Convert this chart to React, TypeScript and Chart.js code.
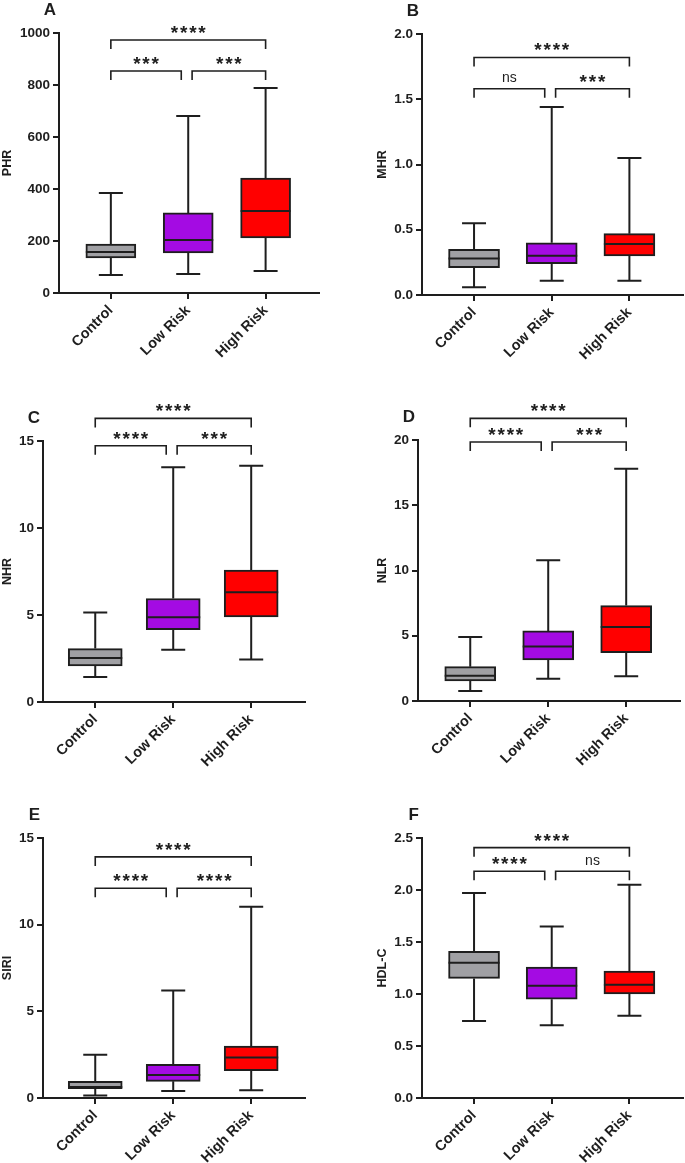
import React, { useEffect, useRef } from 'react';
import { Chart, registerables } from 'chart.js';

Chart.register(...registerables);

const FONT = "'Liberation Sans', Arial, Helvetica, sans-serif";
const INK = '#1e1e1e';

// ---------- data ----------
const groups = ['Control', 'Low Risk', 'High Risk'];
const groupColors = ['#a0a0a4', '#a40be3', '#ff0000'];

// each row: [min whisker, Q1, median, Q3, max whisker]
const phrBoxes = [[69, 135, 158, 188, 385], [73, 154, 204, 308, 681], [85, 212, 315, 442, 788]];
const mhrBoxes = [[0.06, 0.21, 0.28, 0.35, 0.55], [0.11, 0.24, 0.3, 0.4, 1.44], [0.11, 0.3, 0.39, 0.47, 1.05]];
const nhrBoxes = [[1.44, 2.07, 2.53, 3.07, 5.14], [3.01, 4.16, 4.87, 5.95, 13.49], [2.44, 4.89, 6.31, 7.58, 13.58]];
const nlrBoxes = [[0.77, 1.53, 1.94, 2.63, 4.91], [1.71, 3.15, 4.17, 5.37, 10.79], [1.89, 3.71, 5.68, 7.31, 17.8]];
const siriBoxes = [[0.15, 0.54, 0.63, 0.96, 2.49], [0.4, 0.96, 1.32, 1.94, 6.2], [0.44, 1.57, 2.34, 2.99, 11.03]];
const hdlBoxes = [[0.74, 1.15, 1.3, 1.41, 1.97], [0.7, 0.95, 1.08, 1.26, 1.65], [0.79, 1.0, 1.09, 1.22, 2.05]];

// y-axis tick labels
const phrTicks = ['0', '200', '400', '600', '800', '1000'];
const mhrTicks = ['0.0', '0.5', '1.0', '1.5', '2.0'];
const nhrTicks = ['0', '5', '10', '15'];
const nlrTicks = ['0', '5', '10', '15', '20'];
const siriTicks = ['0', '5', '10', '15'];
const hdlTicks = ['0.0', '0.5', '1.0', '1.5', '2.0', '2.5'];

// significance brackets, order: [Control vs High, Control vs Low, Low vs High]
const bracketPairs = [[0, 2], [0, 1], [1, 2]];
const phrSigLabels = ['****', '***', '***'];
const phrSigLevels = [973, 854, 854];
const mhrSigLabels = ['****', 'ns', '***'];
const mhrSigLevels = [1.82, 1.58, 1.58];
const nhrSigLabels = ['****', '****', '***'];
const nhrSigLevels = [16.3, 14.73, 14.73];
const nlrSigLabels = ['****', '****', '***'];
const nlrSigLevels = [21.66, 19.85, 19.85];
const siriSigLabels = ['****', '****', '****'];
const siriSigLevels = [13.91, 12.1, 12.1];
const hdlSigLabels = ['****', '****', 'ns'];
const hdlSigLevels = [2.407, 2.18, 2.18];

// ---------- layout ----------
type Rect = { left: number; top: number; width: number; height: number };
type Plot = { left: number; top: number; right: number; bottom: number };
type Panel = {
  letter: string;
  title: string;
  boxes: number[][];
  ticks: string[];
  sigLabels: string[];
  sigLevels: number[];
  canvas: Rect;
  plot: Plot;
  boxWidth: number;
};

const panels: Panel[] = [
  {
    letter: 'A', title: 'PHR', boxes: phrBoxes, ticks: phrTicks, sigLabels: phrSigLabels, sigLevels: phrSigLevels,
    canvas: { left: 0, top: 0, width: 340, height: 380 }, plot: { left: 59, top: 33, right: 319, bottom: 293 }, boxWidth: 50,
  },
  {
    letter: 'B', title: 'MHR', boxes: mhrBoxes, ticks: mhrTicks, sigLabels: mhrSigLabels, sigLevels: mhrSigLevels,
    canvas: { left: 375, top: 0, width: 310, height: 380 }, plot: { left: 422, top: 34, right: 683, bottom: 295 }, boxWidth: 51,
  },
  {
    letter: 'C', title: 'NHR', boxes: nhrBoxes, ticks: nhrTicks, sigLabels: nhrSigLabels, sigLevels: nhrSigLevels,
    canvas: { left: 0, top: 380, width: 340, height: 390 }, plot: { left: 43, top: 441, right: 305, bottom: 702 }, boxWidth: 54,
  },
  {
    letter: 'D', title: 'NLR', boxes: nlrBoxes, ticks: nlrTicks, sigLabels: nlrSigLabels, sigLevels: nlrSigLevels,
    canvas: { left: 375, top: 380, width: 310, height: 390 }, plot: { left: 418, top: 440, right: 680, bottom: 701 }, boxWidth: 51,
  },
  {
    letter: 'E', title: 'SIRI', boxes: siriBoxes, ticks: siriTicks, sigLabels: siriSigLabels, sigLevels: siriSigLevels,
    canvas: { left: 0, top: 770, width: 340, height: 393 }, plot: { left: 43, top: 838, right: 305, bottom: 1098 }, boxWidth: 54,
  },
  {
    letter: 'F', title: 'HDL-C', boxes: hdlBoxes, ticks: hdlTicks, sigLabels: hdlSigLabels, sigLevels: hdlSigLevels,
    canvas: { left: 375, top: 770, width: 310, height: 393 }, plot: { left: 422, top: 838, right: 683, bottom: 1098 }, boxWidth: 51,
  },
];

const X_MIN = -0.67;
const X_MAX = 2.69;

function drawSigLabel(ctx: CanvasRenderingContext2D, text: string, cx: number, cy: number) {
  ctx.fillStyle = INK;
  if (text.startsWith('*')) {
    ctx.font = `bold 19px ${FONT}`;
    ctx.textAlign = 'center';
    ctx.textBaseline = 'alphabetic';
    const m = ctx.measureText('*');
    const baseY = cy + (m.actualBoundingBoxAscent - m.actualBoundingBoxDescent) / 2;
    const pitch = 9.2;
    const n = text.length;
    for (let k = 0; k < n; k++) {
      ctx.fillText('*', cx + (k - (n - 1) / 2) * pitch, baseY);
    }
  } else {
    ctx.font = `14px ${FONT}`;
    ctx.textAlign = 'center';
    ctx.textBaseline = 'middle';
    ctx.fillText(text, cx, cy);
  }
}

function makePlugin(p: Panel) {
  return {
    id: 'panelExtras',
    afterDatasetsDraw(chart: any) {
      const { ctx } = chart;
      const xs = chart.scales.x;
      const ys = chart.scales.y;
      ctx.save();
      ctx.strokeStyle = INK;
      ctx.lineWidth = 2;
      const half = p.boxWidth / 2;
      const cap = 12;
      p.boxes.forEach((b, i) => {
        const cx = xs.getPixelForValue(i);
        const [lo, q1, med, q3, hi] = b.map((v) => ys.getPixelForValue(v));
        ctx.beginPath();
        ctx.moveTo(cx, q3);
        ctx.lineTo(cx, hi);
        ctx.moveTo(cx - cap, hi);
        ctx.lineTo(cx + cap, hi);
        ctx.moveTo(cx, q1);
        ctx.lineTo(cx, lo);
        ctx.moveTo(cx - cap, lo);
        ctx.lineTo(cx + cap, lo);
        ctx.moveTo(cx - half, med);
        ctx.lineTo(cx + half, med);
        ctx.stroke();
      });
      ctx.restore();
    },
    afterDraw(chart: any) {
      const { ctx, chartArea } = chart;
      const xs = chart.scales.x;
      const ys = chart.scales.y;
      ctx.save();
      ctx.strokeStyle = INK;
      ctx.lineWidth = 1.6;
      bracketPairs.forEach(([a, b], k) => {
        const from = k === 2 ? a + 0.05 : a;
        const to = k === 1 ? b - 0.09 : b;
        const x1 = xs.getPixelForValue(from);
        const x2 = xs.getPixelForValue(to);
        const yy = ys.getPixelForValue(p.sigLevels[k]);
        ctx.beginPath();
        ctx.moveTo(x1, yy + 9);
        ctx.lineTo(x1, yy);
        ctx.lineTo(x2, yy);
        ctx.lineTo(x2, yy + 9);
        ctx.stroke();
        drawSigLabel(ctx, p.sigLabels[k], (x1 + x2) / 2, yy - 10.5);
      });
      // panel letter
      ctx.fillStyle = INK;
      ctx.font = `bold 17px ${FONT}`;
      ctx.textAlign = 'right';
      ctx.textBaseline = 'alphabetic';
      ctx.fillText(p.letter, chartArea.left - 3, chartArea.top - 18);
      ctx.restore();
    },
  };
}

function BoxPanel({ p }: { p: Panel }) {
  const ref = useRef<HTMLCanvasElement | null>(null);
  useEffect(() => {
    if (!ref.current) return;
    const tickValues = p.ticks.map((t) => parseFloat(t));
    const yMin = tickValues[0];
    const yMax = tickValues[tickValues.length - 1];
    const yWidth = p.plot.left - p.canvas.left;
    const xHeight = p.canvas.top + p.canvas.height - p.plot.bottom;
    const chart = new Chart(ref.current, {
      type: 'bar',
      data: {
        datasets: [
          {
            data: p.boxes.map((b, i) => ({ x: i, y: [b[1], b[3]] })) as any,
            backgroundColor: groupColors,
            borderColor: INK,
            borderWidth: 2,
            borderSkipped: false,
            barThickness: p.boxWidth,
          } as any,
        ],
      },
      options: {
        responsive: false,
        animation: false,
        events: [],
        layout: {
          padding: {
            top: p.plot.top - p.canvas.top,
            right: p.canvas.left + p.canvas.width - p.plot.right,
            left: 0,
            bottom: 0,
          },
        },
        plugins: { legend: { display: false }, tooltip: { enabled: false } },
        scales: {
          x: {
            type: 'linear',
            min: X_MIN,
            max: X_MAX,
            offset: false,
            afterBuildTicks: (scale: any) => {
              scale.ticks = groups.map((_, i) => ({ value: i }));
            },
            afterFit: (scale: any) => {
              scale.height = xHeight;
            },
            ticks: {
              autoSkip: false,
              minRotation: 45,
              maxRotation: 45,
              padding: 3,
              color: INK,
              font: { family: FONT, size: 14.5, weight: 'bold' },
              callback: (v: any) => groups[Math.round(Number(v))] ?? '',
            },
            grid: { display: true, drawOnChartArea: false, drawTicks: true, tickLength: 6, color: INK, lineWidth: 2, offset: false },
            border: { display: true, color: INK, width: 2 },
          } as any,
          y: {
            type: 'linear',
            min: yMin,
            max: yMax,
            afterBuildTicks: (scale: any) => {
              scale.ticks = tickValues.map((v) => ({ value: v }));
            },
            afterFit: (scale: any) => {
              scale.width = yWidth;
            },
            ticks: {
              padding: 3,
              color: INK,
              font: { family: FONT, size: 13.5, weight: 'bold' },
              callback: (v: any) => {
                const idx = tickValues.findIndex((t) => Math.abs(t - Number(v)) < 1e-9);
                return idx >= 0 ? p.ticks[idx] : '';
              },
            },
            title: {
              display: true,
              text: p.title,
              color: INK,
              font: { family: FONT, size: 12.5, weight: 'bold', lineHeight: 1.15 },
              padding: { top: 0, bottom: 0 },
            },
            grid: { display: true, drawOnChartArea: false, drawTicks: true, tickLength: 6, color: INK, lineWidth: 2 },
            border: { display: true, color: INK, width: 2 },
          } as any,
        },
      },
      plugins: [makePlugin(p)],
    });
    return () => chart.destroy();
  }, [p]);
  return (
    <canvas
      ref={ref}
      width={p.canvas.width}
      height={p.canvas.height}
      style={{
        position: 'absolute',
        left: p.canvas.left,
        top: p.canvas.top,
        width: p.canvas.width,
        height: p.canvas.height,
        display: 'block',
      }}
    />
  );
}

export default function App() {
  return (
    <div
      style={{
        position: 'absolute',
        left: 0,
        top: 0,
        width: 685,
        height: 1163,
        background: '#ffffff',
        overflow: 'hidden',
      }}
    >
      {panels.map((p) => (
        <BoxPanel key={p.letter} p={p} />
      ))}
    </div>
  );
}
